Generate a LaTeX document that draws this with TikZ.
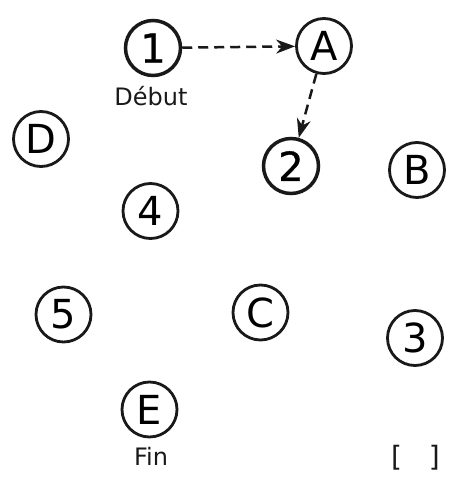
\documentclass[tikz,border=0pt]{standalone}
\usepackage{fontspec}
\setmainfont{DejaVu Sans}
\newfontfamily\boldish[FakeBold=0.8]{DejaVu Sans}
\usetikzlibrary{arrows.meta}
\tikzset{
  state/.style={circle, draw=black!90, line width=2.8pt, minimum size=55pt, inner sep=0pt, font=\fontsize{40}{40}\selectfont},
  visited/.style={state, line width=3.5pt, font=\fontsize{40}{40}\selectfont\boldish},
  caption/.style={anchor=base, inner sep=0pt, font=\fontsize{24}{24}\selectfont, text=black!90},
  move/.style={line width=2.5pt, draw=black!90, dash pattern=on 10pt off 6pt, -{Stealth[length=19pt,width=14pt]}}
}
\begin{document}
\begin{tikzpicture}[x=1pt,y=-1pt]
\useasboundingbox (0,0) rectangle (450,482);
\node[visited] (n1) at (153,48) {1};
\node[state] (nA) at (324,46) {A};
\node[visited] (n2) at (291,166) {2};
\node[state] (nD) at (41,139) {D};
\node[state] (nB) at (417,170) {B};
\node[state] (n4) at (150.5,211) {4};
\node[state] (n5) at (63.5,314.5) {5};
\node[state] (nC) at (260.5,312.5) {C};
\node[state] (n3) at (415,338) {3};
\node[state] (nE) at (149.5,409.5) {E};
\node[caption] (debut) at (151,105) {Début};
\node[caption] (fin) at (151,465) {Fin};
\node[caption, font=\fontsize{28}{28}\selectfont] (brk) at (415.5,466) {{\spaceskip=27pt [ ]}};
\draw[move] (n1) -- (nA);
\draw[move] (nA) -- (n2);
\end{tikzpicture}
\end{document}
